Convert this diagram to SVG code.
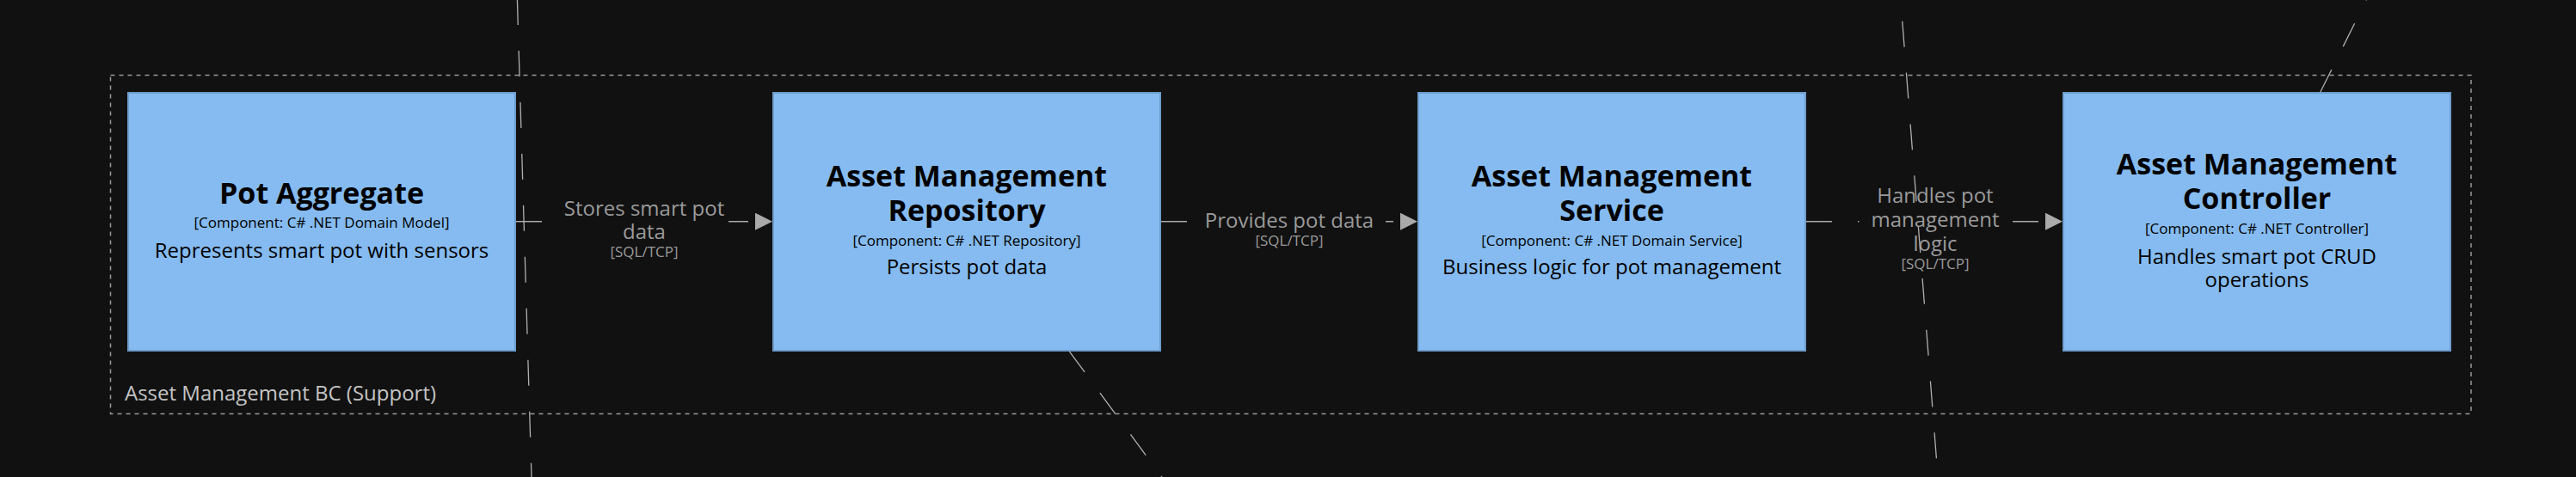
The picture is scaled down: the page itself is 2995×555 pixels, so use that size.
<svg xmlns="http://www.w3.org/2000/svg" width="2995" height="555" viewBox="0 0 2995 555">
  <defs>
    <style>
      .node rect { fill: #85bbf0; stroke: #6e9ccb; stroke-width: 2; }
      .title { font-family: "Open Sans", "Liberation Sans", sans-serif; font-weight: bold; font-size: 34px; fill: #000; text-anchor: middle; }
      .meta { font-family: "Open Sans", "Liberation Sans", sans-serif; font-size: 17px; fill: #000; text-anchor: middle; }
      .desc { font-family: "Open Sans", "Liberation Sans", sans-serif; font-size: 24px; fill: #000; text-anchor: middle; }
      .rel { stroke: #aaaaaa; stroke-width: 1.5; stroke-dasharray: 30 30; fill: none; }
      .cross { stroke: #b0b0b0; stroke-width: 1.3; stroke-dasharray: 30 30; fill: none; }
      .lbl { font-family: "Open Sans", "Liberation Sans", sans-serif; font-size: 24px; fill: #9a9a9a; text-anchor: middle; }
      .tech { font-family: "Open Sans", "Liberation Sans", sans-serif; font-size: 17px; fill: #9a9a9a; text-anchor: middle; }
      .lblbg { fill: #111111; }
      .boundary { fill: none; stroke: #999999; stroke-width: 1.5; stroke-dasharray: 5 5; }
      .blabel { font-family: "Open Sans", "Liberation Sans", sans-serif; font-size: 24px; fill: #c4c4c4; }
    </style>
    <marker id="arrow" markerUnits="userSpaceOnUse" markerWidth="20" markerHeight="20" refX="0" refY="10" orient="auto" viewBox="0 0 20 20">
      <path d="M0,0 L20,10 L0,20 Z" fill="#aaaaaa"/>
    </marker>
  </defs>
  <rect x="0" y="0" width="2995" height="555" fill="#111111"/>

  <g id="boundary-asset-management">
    <rect class="boundary" x="128.5" y="87.5" width="2744.5" height="394"/>
    <text class="blabel" x="145" y="466">Asset Management BC (Support)</text>
  </g>

  <g id="node-pot-aggregate" class="node">
    <rect x="149" y="108" width="450" height="300"/>
    <text class="title" x="374" y="237">Pot Aggregate</text>
    <text class="meta" x="374" y="265">[Component: C# .NET Domain Model]</text>
    <text class="desc" x="374" y="300">Represents smart pot with sensors</text>
  </g>

  <g id="node-asset-management-repository" class="node">
    <rect x="899" y="108" width="450" height="300"/>
    <text class="title" x="1124" y="217">Asset Management</text>
    <text class="title" x="1124" y="257">Repository</text>
    <text class="meta" x="1124" y="286">[Component: C# .NET Repository]</text>
    <text class="desc" x="1124" y="319">Persists pot data</text>
  </g>

  <g id="node-asset-management-service" class="node">
    <rect x="1649" y="108" width="450" height="300"/>
    <text class="title" x="1874" y="217">Asset Management</text>
    <text class="title" x="1874" y="257">Service</text>
    <text class="meta" x="1874" y="286">[Component: C# .NET Domain Service]</text>
    <text class="desc" x="1874" y="319">Business logic for pot management</text>
  </g>

  <g id="node-asset-management-controller" class="node">
    <rect x="2399" y="108" width="450" height="300"/>
    <text class="title" x="2624" y="203">Asset Management</text>
    <text class="title" x="2624" y="243">Controller</text>
    <text class="meta" x="2624" y="272">[Component: C# .NET Controller]</text>
    <text class="desc" x="2624" y="307">Handles smart pot CRUD</text>
    <text class="desc" x="2624" y="334">operations</text>
  </g>

  <g id="connectors">
    <g id="rel-pot-repository">
      <line class="rel" x1="600" y1="257.7" x2="878" y2="257.7" marker-end="url(#arrow)"/>
      <rect class="lblbg" x="651" y="228" width="196" height="78"/>
      <text class="lbl" x="749" y="250.7">Stores smart pot</text>
      <text class="lbl" x="749" y="278.3">data</text>
      <text class="tech" x="749" y="299.3">[SQL/TCP]</text>
    </g>
    <g id="rel-repository-service">
      <line class="rel" x1="1350" y1="257.7" x2="1628" y2="257.7" marker-end="url(#arrow)"/>
      <rect class="lblbg" x="1387" y="240" width="224" height="52"/>
      <text class="lbl" x="1499" y="264.5">Provides pot data</text>
      <text class="tech" x="1499" y="285.5">[SQL/TCP]</text>
    </g>
    <g id="rel-service-controller">
      <line class="rel" x1="2100" y1="257.7" x2="2378" y2="257.7" marker-end="url(#arrow)"/>
      <rect class="lblbg" x="2161.5" y="212" width="178" height="108"/>
      <text class="lbl" x="2250" y="236">Handles pot</text>
      <text class="lbl" x="2250" y="264">management</text>
      <text class="lbl" x="2250" y="292">logic</text>
      <text class="tech" x="2250" y="313.3">[SQL/TCP]</text>
    </g>
    <line id="rel-cross-1" class="cross" x1="599.6" y1="-61" x2="619.3" y2="600"/>
    <line id="rel-cross-2" class="cross" x1="2207.1" y1="-35" x2="2256.6" y2="600"/>
    <line id="rel-cross-3" class="cross" x1="1243.3" y1="408.8" x2="1391.3" y2="610"/>
    <line id="rel-cross-4" class="cross" x1="2764.4" y1="-26.4" x2="2697.7" y2="107.3"/>
  </g>
</svg>
